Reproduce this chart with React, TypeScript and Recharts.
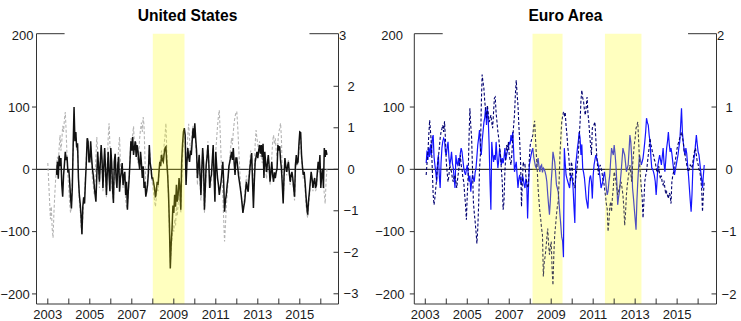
import React from "react";
import { LineChart, Line, XAxis, YAxis, ReferenceLine, ReferenceArea } from "recharts";

// ---------- time grid: semi-monthly observations starting 2003.0 ----------
const START_YEAR = 2003;
const PER_YEAR = 24;

// ---------- United States (left-axis units) ----------
const usBlack: (number | null)[] = [
  null, null, null, null, null, null, null, null, null, null, -9, 12, -15, 22, 5, 18, -25, -44, -10, 8, 28, 15, 20, -5,
  0, -20, -45, -63, -30, 40, 100, 45, 60, 35, 42, -14, -40, -55, -75, -104, -60, -45, -55, -20, 10, 50, 45, 12,
  12, 45, 20, 1, -10, -25, -40, -52, -10, 28, 5, -20, 10, 39, 15, -30, 5, 34, 0, -41, -5, 28, -10, -35,
  34, 10, -30, -54, 12, 25, -14, -30, 7, 20, -36, -15, -4, 10, -25, -10, -4, -41, -20, -65, -35, -14, 15, 45,
  30, 52, 23, 35, 45, 20, 39, 30, 12, 0, 28, 10, -14, 5, -30, -20, -44, -35, -25, -5, 39, 10, 1, -14,
  -14, -22, -30, -45, -35, -20, -25, -5, 12, 5, 23, 15, 12, 25, 34, 36, 10, -9, -41, -90, -159, -120, -95, -58,
  -70, -41, -60, -25, -52, -40, -14, -30, -65, 12, 40, 60, 66, 55, -25, 10, 34, 20, 12, 30, 23, 45, 66, 50,
  74, 50, 30, -14, 5, 23, -10, -41, 0, 34, 10, -65, -30, 7, 20, 39, 10, -30, -15, -9, 15, 39, -10, -52,
  28, 5, -14, -25, -41, -30, -20, -5, 12, -20, -68, -50, -41, -25, -14, 5, 12, 20, 28, 15, 34, 10, -9, 18,
  18, 4, -10, -20, -30, -41, -55, -70, -60, -52, -35, -20, -30, -36, -15, 2, 15, 26, -20, -62, -20, 12, 20, 28,
  18, 30, 39, 25, 39, 20, 41, -14, 28, 10, -4, 10, 23, 5, -20, -5, 12, -10, -20, -5, -14, -5, 1, 39,
  30, 37, 15, 1, -25, -55, -10, 18, 5, -4, 5, 12, -5, -20, -10, -4, -14, -30, -44, 7, 23, 10, 12, 40,
  60, 59, 23, 5, -9, -4, -20, -41, -60, -73, -50, -36, -20, -4, -15, -30, -20, -14, -30, -25, -5, 12, 0, 23,
  -30, -10, 1, -30, 34, 20, 31, 23,
];

const usGray: (number | null)[] = [
  10, -20, -50, -80, -60, -95, -110, -70, -40, -15, 5, 20, 10, 35, 55, 30, 45, 70, 60, 80, 92, 60, 20, -10,
  -30, -55, -70, -60, -20, 30, 70, 50, 60, 30, 40, -10, -50, -65, -90, -105, -80, -50, -40, -10, 20, 45, 50, 20,
  25, 40, 10, -15, -25, -40, -20, 20, 52, 30, -10, -30, 15, 35, 5, -35, -10, 30, -5, -45, 10, 50, 74, 40,
  20, -10, -40, -50, -10, 20, 0, -20, 15, 35, 52, 10, -10, 5, -30, -20, -10, -50, -60, -57, -40, -10, 20, 50,
  40, 55, 69, 40, 30, 45, 20, 10, 30, 50, 65, 75, 60, 84, 70, 20, -30, -40, -20, 10, 35, 20, -5, -20,
  -25, -40, -50, -60, -45, -30, -35, -10, 10, 20, 30, 15, 20, 40, 55, 74, 30, 0, -50, -100, -150, -130, -110, -90,
  -100, -80, -90, -60, -75, -55, -40, -50, -70, -20, 20, 45, 60, 40, -10, 20, 55, 73, 50, 30, 40, 60, 70, 55,
  65, 40, 20, -25, 0, 25, -20, -50, -10, 30, 5, -70, -40, 0, 25, 45, 15, -20, -30, -15, 10, 35, -5, -40,
  30, 50, 70, 85, 95, 60, 20, -10, -40, -80, -116, -90, -60, -40, -20, 0, 20, 35, 50, 40, 60, 75, 85, 90,
  93, 70, 40, 10, -20, -40, -50, -60, -55, -40, -25, -10, -20, -30, -5, 15, 30, 20, -10, -45, 0, 40, 63, 50,
  40, 30, 45, 20, 35, 10, 30, -10, 20, 0, -15, 5, 20, 0, -25, -5, 20, 45, 55, 40, 50, 30, 20, 45,
  60, 65, 74, 50, -10, -50, -20, 15, 0, -10, 5, 15, -10, -25, -15, -10, -20, -35, -50, -10, 15, 5, 10, 30,
  45, 50, 15, 0, -15, -10, -30, -55, -70, -78, -60, -45, -25, -10, -20, -35, -25, -20, -35, -30, -10, 5, -5, 10,
  -25, -10, 0, -20, -40, -55, -20, 0,
];

// ---------- Euro Area (left-axis units) ----------
const eaBlue: (number | null)[] = [
  null, 10, 30, 15, 35, 20, 40, 23, 50, 55, 20, 7, -5, -20, 10, 23, -10, -30, 10, 34, 45, 50, 47, 28,
  23, 35, 44, 20, 7, 15, 28, 10, 2, -15, -30, 23, 10, 7, 18, 5, 25, 34, 28, 15, 2, -5, -9, 0,
  7, -5, -20, -10, -36, -20, -9, -15, -20, -5, 2, 20, 39, 50, 63, 34, 23, 45, 60, 75, 83, 100, 71, 97,
  80, 40, -20, -65, 44, 25, 12, 23, 15, 44, 20, 2, 15, 34, 20, 7, 18, 10, 18, 34, 15, 23, 30, 34,
  44, 40, 55, 45, 60, 30, -4, 5, 12, -10, -30, -15, -9, -20, -25, -10, -14, -25, -30, -15, -20, -79, -30, 7,
  15, 23, 30, 34, 20, 12, 5, 2, 10, 18, 5, -4, 5, 7, -5, 2, 0, -4, -10, -20, -40, -57, -73, -50,
  -20, 0, 28, 20, 12, -5, -25, -30, -36, -55, -73, -90, -109, -115, -141, 34, 10, -9, -15, -20, -25, -30, -15, -9,
  -14, -30, -60, -86, 7, 20, 34, 45, 60, 50, 23, 40, 2, -5, -14, -30, -47, -55, -63, -30, -14, -10, -20, -47,
  -10, 7, 15, 23, 18, 12, 5, -4, -15, -30, -25, -20, -10, -4, -15, -30, -41, -35, -20, -9, 15, 34, 28, 23,
  39, 25, 7, -20, -57, -45, -36, -20, -4, 15, 34, 28, 23, 10, -4, 2, 7, 30, 55, 44, 20, -30, -45, -63,
  -80, -97, -50, -20, 5, 23, 15, 7, 12, 18, 30, 44, 60, 82, 75, 71, 55, 44, 20, 2, 0, -4, -10, -20,
  -41, -20, 7, 15, 23, 15, 7, 20, 34, 10, -4, 15, 34, 45, 60, 40, 28, 34, 25, 12, 0, -9, 0, 7,
  15, 23, 35, 44, 70, 98, 60, 44, 30, 23, 34, 25, 7, -10, -30, -50, -68, -40, 2, 15, 23, 40, 55, 40,
  28, 23, 10, -4, -15, -30, -10, 7,
];

const eaDash: (number | null)[] = [
  null, -9, 10, 28, 55, 79, 60, 39, 0, -41, -57, -45, -30, -15, 7, 20, 34, 50, 60, 65, 71, 60, 77, 50,
  12, -5, -20, -10, 7, 0, -4, -15, -20, -12, -9, -20, -30, -15, -4, 10, 23, 7, 0, -14, -20, -40, -57, -81,
  -41, -10, 50, 98, 70, 50, 0, -52, -70, -84, -100, -119, -95, -57, 0, 23, 100, 152, 140, 130, 109, 95, 82, 103,
  90, 76, 80, 87, 75, 66, 90, 114, 116, 90, 76, 60, 50, 35, 23, 0, -20, -65, -52, -4, 20, 39, 30, 44,
  23, 15, 7, 25, 50, 70, 87, 120, 143, 120, 103, 70, 44, 10, -60, -20, 12, 5, 7, -10, -20, -30, -25, 18,
  39, 45, 50, 55, 70, 78, 50, 23, 0, -30, -50, -68, -80, -95, -105, -172, -150, -140, -127, -110, -95, -120, -137, -125,
  -116, -160, -186, -137, -105, -90, -73, -60, -52, -20, 23, 50, 76, 85, 92, 87, 92, 70, 55, 35, 23, 0, -20, 12,
  5, -20, -25, -30, -15, -4, 10, 23, 50, 76, 110, 127, 115, 109, 95, 87, 100, 116, 90, 76, 55, 39, 23, 66,
  70, 72, 76, 50, 23, 5, -9, 0, 7, 2, -4, -15, -20, -30, -41, -55, -63, -100, -84, -60, -52, -68, -45, -30,
  -4, -10, -20, -30, -41, -35, -30, -25, -20, -30, -41, -60, -90, -70, -41, -25, -14, -5, 7, -5, -20, 5, 23, 40,
  50, 66, 70, 76, 45, 12, -10, -30, -45, -78, -52, -20, -10, -4, 10, 23, 35, 50, 40, 34, 25, 23, 15, 12,
  2, -5, -4, 5, -9, -15, -10, -22, -25, -18, -30, -40, -36, -42, -47, -38, -41, -55, -20, -10, -4, 7, 15, 23,
  34, 40, 45, 50, 55, 60, 52, 44, 30, 23, 15, 7, 0, -4, 2, 7, 5, 2, 12, 23, 30, 34, 23, 12,
  8, 0, -4, -15, -30, -68, -40, -20,
];

// ---------- axes ----------
const yearTicks = [2003, 2004, 2005, 2006, 2007, 2008, 2009, 2010, 2011, 2012, 2013, 2014, 2015, 2016];
const yearLabels = [2003, 2005, 2007, 2009, 2011, 2013, 2015];
const leftTickValues = [-200, -100, 0, 100];
const leftTopLabel = "200";
const usRightTickValues = [-3, -2, -1, 0, 1, 2];
const usRightTopLabel = "3";
const eaRightTickValues = [-2, -1, 0, 1];
const eaRightTopLabel = "2";

const LEFT_DOMAIN: [number, number] = [-216.2, 217.7];
const US_RIGHT_DOMAIN: [number, number] = [-3.246, 3.267];
const EA_RIGHT_DOMAIN: [number, number] = [-2.162, 2.177];
const US_X_DOMAIN: [number, number] = [2002.462, 2016.843];
const EA_X_DOMAIN: [number, number] = [2002.476, 2016.876];

// shaded recession periods
const usShades: [number, number][] = [[2008.0, 2009.51]];
const eaShades: [number, number][] = [[2008.11, 2009.54], [2011.56, 2013.3]];

// short frame segments at the top of each panel (in years)
const usTopSegments: [number, number][] = [[2002.462, 2003.8], [2015.46, 2016.843]];
const eaTopSegments: [number, number][] = [[2002.476, 2003.83], [2015.52, 2016.876]];

const FONT = "'Liberation Sans', Arial, Helvetica, sans-serif";
const AX = "#333333";
const TXT = "#1a1a1a";
const FS = 13;

function fmt(v: number) {
  return v < 0 ? "\u2212" + Math.abs(v) : String(v);
}

function rows(a: (number | null)[], b: (number | null)[]) {
  const n = Math.max(a.length, b.length);
  const out: any[] = [];
  for (let i = 0; i < n; i++) {
    out.push({ t: START_YEAR + i / PER_YEAR, a: a[i] ?? null, b: b[i] ?? null });
  }
  return out;
}

function XTick(p: any) {
  const { x, y, payload } = p;
  const v = payload.value;
  return (
    <g>
      <line x1={x} x2={x} y1={y - 5.5} y2={y} stroke={AX} strokeWidth={1} />
      {yearLabels.includes(v) ? (
        <text x={x} y={y + 15.3} textAnchor="middle" fontSize={FS} fontFamily={FONT} fill={TXT}>
          {v}
        </text>
      ) : null}
    </g>
  );
}

function makeLeftTick(topValue: number, topLabel: string, gap: number, topGap: number) {
  return (p: any) => {
    const { x, y, payload } = p;
    const v = payload.value;
    if (v === topValue) {
      return (
        <text x={x - topGap} y={y + 6.5} textAnchor="end" fontSize={FS} fontFamily={FONT} fill={TXT}>
          {topLabel}
        </text>
      );
    }
    return (
      <g>
        <line x1={x - 4.5} x2={x} y1={y} y2={y} stroke={AX} strokeWidth={1} />
        <text x={x - gap} y={y + 4.6} textAnchor="end" fontSize={FS} fontFamily={FONT} fill={TXT}>
          {fmt(v)}
        </text>
      </g>
    );
  };
}

function makeRightTick(topValue: number, topLabel: string) {
  return (p: any) => {
    const { x, y, payload } = p;
    const v = payload.value;
    if (v === topValue) {
      return (
        <text x={x + 0.5} y={y + 6.5} textAnchor="start" fontSize={FS} fontFamily={FONT} fill={TXT}>
          {topLabel}
        </text>
      );
    }
    return (
      <g>
        <line x1={x - 5} x2={x} y1={y} y2={y} stroke={AX} strokeWidth={1} />
        <text x={x + 12.5} y={y + 4.6} textAnchor="middle" fontSize={FS} fontFamily={FONT} fill={TXT}>
          {fmt(v)}
        </text>
      </g>
    );
  };
}

type PanelProps = {
  left: number;
  width: number;
  leftAxisWidth: number;
  rightAxisWidth: number;
  data: any[];
  xDomain: [number, number];
  rightDomain: [number, number];
  rightTicks: number[];
  rightTopLabel: string;
  shades: [number, number][];
  topSegments: [number, number][];
  colorA: string;
  dashA: string;
  widthA: number;
  colorB: string;
  dashB: string;
  widthB: number;
  leftGap: number;
  leftTopGap: number;
};

function Panel(props: PanelProps) {
  const {
    left, width, leftAxisWidth, rightAxisWidth, data, xDomain, rightDomain, rightTicks, rightTopLabel,
    shades, topSegments, colorA, dashA, widthA, colorB, dashB, widthB, leftGap, leftTopGap,
  } = props;
  const leftTicks = [...leftTickValues, LEFT_DOMAIN[1]];
  const rTicks = [...rightTicks, rightDomain[1]];
  return (
    <div style={{ position: "absolute", left, top: 0 }}>
      <LineChart width={width} height={321} data={data} margin={{ top: 33.7, right: 0, bottom: 0, left: 0 }}>
        <XAxis
          dataKey="t"
          type="number"
          domain={xDomain}
          ticks={yearTicks}
          interval={0}
          height={17}
          tickSize={0}
          tickMargin={0}
          tickLine={false}
          axisLine={{ stroke: AX, strokeWidth: 1 }}
          tick={XTick}
          allowDataOverflow
        />
        <YAxis
          yAxisId="l"
          orientation="left"
          type="number"
          domain={LEFT_DOMAIN}
          ticks={leftTicks}
          interval={0}
          width={leftAxisWidth}
          tickSize={0}
          tickMargin={0}
          tickLine={false}
          axisLine={{ stroke: AX, strokeWidth: 1 }}
          tick={makeLeftTick(LEFT_DOMAIN[1], leftTopLabel, leftGap, leftTopGap)}
          allowDataOverflow
        />
        <YAxis
          yAxisId="r"
          orientation="right"
          type="number"
          domain={rightDomain}
          ticks={rTicks}
          interval={0}
          width={rightAxisWidth}
          tickSize={0}
          tickMargin={0}
          tickLine={false}
          axisLine={{ stroke: AX, strokeWidth: 1 }}
          tick={makeRightTick(rightDomain[1], rightTopLabel)}
          allowDataOverflow
        />
        <ReferenceLine yAxisId="l" y={0} stroke="#000" strokeWidth={1} />
        {topSegments.map(([a, b], i) => (
          <ReferenceLine
            key={"seg" + i}
            yAxisId="l"
            segment={[{ x: a, y: LEFT_DOMAIN[1] }, { x: b, y: LEFT_DOMAIN[1] }]}
            stroke={AX}
            strokeWidth={1}
          />
        ))}
        <Line
          yAxisId="l"
          dataKey="b"
          type="linear"
          stroke={colorB}
          strokeWidth={widthB}
          strokeDasharray={dashB}
          dot={false}
          activeDot={false}
          isAnimationActive={false}
        />
        <Line
          yAxisId="l"
          dataKey="a"
          type="linear"
          stroke={colorA}
          strokeWidth={widthA}
          strokeDasharray={dashA}
          dot={false}
          activeDot={false}
          isAnimationActive={false}
        />
        {shades.map(([a, b], i) => (
          <ReferenceArea
            key={"sh" + i}
            yAxisId="l"
            x1={a}
            x2={b}
            y1={LEFT_DOMAIN[0]}
            y2={LEFT_DOMAIN[1]}
            fill="#FFFF00"
            fillOpacity={0.25}
            stroke="none"
            {...({ zIndex: 450 } as any)}
          />
        ))}
      </LineChart>
    </div>
  );
}

const usRows = rows(usBlack, usGray);
const eaRows = rows(eaDash, eaBlue);

export default function App() {
  return (
    <div style={{ position: "absolute", left: 0, top: 0, width: 741, height: 321, overflow: "hidden", background: "#fff" }}>
      <Panel
        left={-14}
        width={385}
        leftAxisWidth={50.5}
        rightAxisWidth={32.5}
        data={usRows}
        xDomain={US_X_DOMAIN}
        rightDomain={US_RIGHT_DOMAIN}
        rightTicks={usRightTickValues}
        rightTopLabel={usRightTopLabel}
        shades={usShades}
        topSegments={usTopSegments}
        colorA="#111111"
        dashA=""
        widthA={1.5}
        colorB="#B4B4B4"
        dashB="3 2"
        widthB={1.1}
        leftGap={6.8}
        leftTopGap={3}
      />
      <Panel
        left={370}
        width={380}
        leftAxisWidth={44.3}
        rightAxisWidth={33.5}
        data={eaRows}
        xDomain={EA_X_DOMAIN}
        rightDomain={EA_RIGHT_DOMAIN}
        rightTicks={eaRightTickValues}
        rightTopLabel={eaRightTopLabel}
        shades={eaShades}
        topSegments={eaTopSegments}
        colorA="#000070"
        dashA="3 2"
        widthA={1.1}
        colorB="#1414FF"
        dashB=""
        widthB={1.2}
        leftGap={9.8}
        leftTopGap={11.3}
      />
      <svg width={741} height={321} style={{ position: "absolute", left: 0, top: 0, pointerEvents: "none" }}>
        <text x={187.5} y={21.3} textAnchor="middle" fontSize={15.6} fontWeight="bold" fontFamily={FONT} fill="#000">
          United States
        </text>
        <text x={565.4} y={21.3} textAnchor="middle" fontSize={15.6} fontWeight="bold" fontFamily={FONT} fill="#000">
          Euro Area
        </text>
      </svg>
    </div>
  );
}
